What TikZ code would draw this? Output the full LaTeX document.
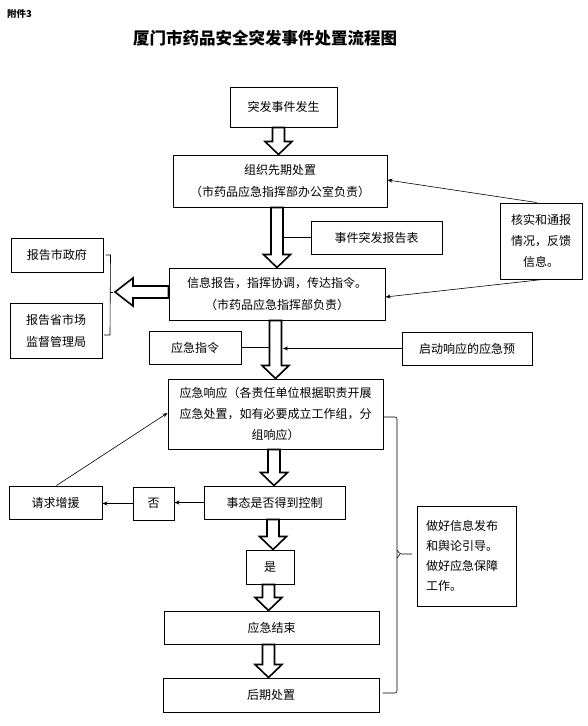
\documentclass[tikz,border=0pt]{standalone}
\usepackage{fontspec}
\newfontfamily\cjk{Noto Sans CJK SC}
\usetikzlibrary{arrows.meta,calc}
\tikzset{
  box/.style={draw, line width=1pt, inner sep=0pt, align=center, font=\cjk\fontsize{12}{22}\selectfont},
  blk/.style={draw, line width=1.6pt, fill=white, line join=miter},
  con/.style={line width=0.6pt},
  arr/.style={con, -{Stealth[length=5pt,width=4pt]}},
}
\newcommand{\bdown}[3]{%
  \draw[blk] let \p1=($(#1.south)+(#3,0)$), \p2=(#2.north) in
   (\x1-6pt,\y1) -- (\x1+6pt,\y1) -- (\x1+6pt,\y2+13pt) -- (\x1+13.5pt,\y2+13pt)
   -- (\x1,\y2) -- (\x1-13.5pt,\y2+13pt) -- (\x1-6pt,\y2+13pt) -- cycle;}
\begin{document}
\begin{tikzpicture}[x=1pt,y=-1pt]
\useasboundingbox (0,0) rectangle (588,726);
% titles
\node[anchor=west, inner sep=0pt, font=\cjk\bfseries\fontsize{9.5}{12}\selectfont] (att) at (7,14) {附件3};
\node[inner sep=0pt, font=\cjk\bfseries\fontsize{16.5}{20}\selectfont] (title) at (265,38) {厦门市药品安全突发事件处置流程图};
% boxes
\node[box, minimum width=107pt, minimum height=40pt] (b1) at (283.5,107) {突发事件发生};
\node[box, minimum width=214pt, minimum height=52pt] (b2) at (280,181) {组织先期处置\\（市药品应急指挥部办公室负责）};
\node[box, minimum width=131pt, minimum height=33pt] (report) at (376.5,237.5) {事件突发报告表};
\node[box, minimum width=216pt, minimum height=52pt] (b3) at (277,294) {信息报告，指挥协调，传达指令。\\（市药品应急指挥部负责）};
\node[box, minimum width=92pt, minimum height=34pt] (gov) at (57,255) {报告市政府};
\node[box, minimum width=92pt, minimum height=55pt] (prov) at (56,330.5) {报告省市场\\监督管理局};
\node[box, minimum width=82pt, minimum height=76pt, font=\cjk\fontsize{12}{21}\selectfont] (verify) at (541,241) {核实和通报\\情况，反馈\\信息。};
\node[box, minimum width=92pt, minimum height=33pt] (cmd) at (195,347.5) {应急指令};
\node[box, minimum width=130pt, minimum height=33pt] (plan) at (467,348.5) {启动响应的应急预};
\node[box, minimum width=215pt, minimum height=70pt, font=\cjk\fontsize{12}{21}\selectfont] (b4) at (275.5,414) {应急响应（各责任单位根据职责开展\\应急处置，如有必要成立工作组，分\\组响应）};
\node[box, minimum width=141pt, minimum height=33pt] (b5) at (274.5,502.5) {事态是否得到控制};
\node[box, minimum width=41pt, minimum height=33pt] (no) at (153.5,503.5) {否};
\node[box, minimum width=93pt, minimum height=33pt] (help) at (55.5,502.5) {请求增援};
\node[box, minimum width=48pt, minimum height=34pt] (yes) at (270,567) {是};
\node[box, minimum width=215pt, minimum height=33pt] (b6) at (271.5,627.5) {应急结束};
\node[box, minimum width=216pt, minimum height=34pt] (b7) at (271,695) {后期处置};
\node[box, minimum width=99pt, minimum height=100pt, align=left, text width=81pt, inner xsep=9pt, font=\cjk\fontsize{12}{20}\selectfont] (info) at (466.5,556) {做好信息发布\\和舆论引导。\\做好应急保障\\工作。};
% free ends
\coordinate (rptend) at (283,237.5);
\coordinate (cmdend) at (270,347.5);
\coordinate (planend) at (283,348.5);
\coordinate (ltip) at (115,292);
% thin connectors
\draw[con] (report.west) -- (rptend);
\draw[con] (cmd.east) -- (cmdend);
\draw[arr] (plan.west) -- (planend);
\draw[arr] ($(verify.north west)+(37,0)$) -- ($(b2.east)+(0,-1)$);
\draw[arr] ($(verify.south west)+(43,0)$) -- ($(b3.east)+(0,3)$);
\draw[arr] (b5.west) -- (b5.west -| no.east);
\draw[arr] (no.west) -- (no.west -| help.east);
\draw[arr] ($(help.north)+(1,0)$) -- ($(b4.west)+(0,-1)$);
% bracket for report boxes
\draw[con] ($(gov.east)+(2,0)$) -- ++(5,0) -- (110,335) -- (104,335);
\draw[con] (110,292) -- (113,292);
% right brace
\draw[con, rounded corners=2pt] ($(b4.east)+(0,3)$) -- (397,417) -- (397,693) -- ($(b7.east)+(3,-2)$);
\draw[con, rounded corners=1.5pt] (397,550) -- (400,554) -- (412,554);
\draw[con, rounded corners=1.5pt] (397,558) -- (400,554);
% block arrows
\bdown{b1}{b2}{-5}
\bdown{b2}{b3}{-3}
\bdown{b3}{b4}{-1.5}
\bdown{b4}{b5}{-1.5}
\bdown{b5}{yes}{-1.5}
\bdown{yes}{b6}{-1.5}
\bdown{b6}{b7}{-3}
\draw[blk] let \p1=(b3.west), \p2=(ltip) in
  (\x1,\y2+6pt) -- (\x2+18pt,\y2+6pt) -- (\x2+18pt,\y2+14pt) -- (\x2,\y2)
  -- (\x2+18pt,\y2-14pt) -- (\x2+18pt,\y2-6pt) -- (\x1,\y2-6pt) -- cycle;
\end{tikzpicture}
\end{document}
